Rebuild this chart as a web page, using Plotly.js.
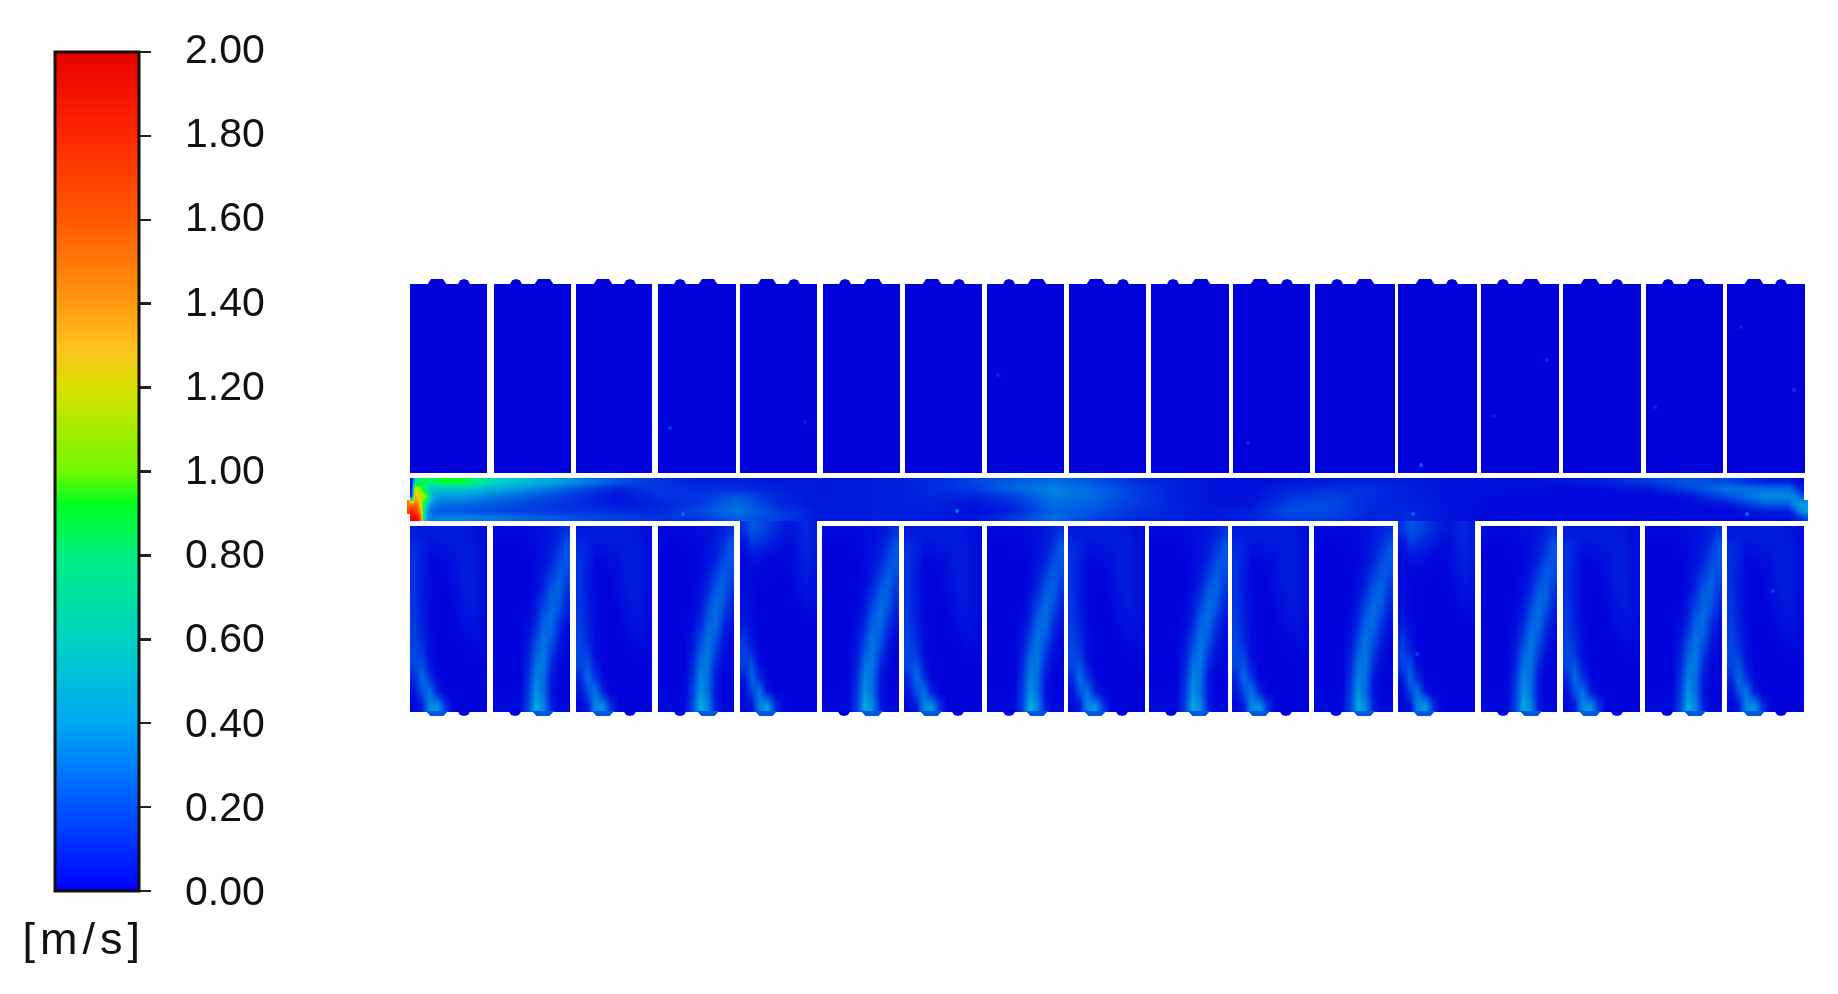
<!DOCTYPE html>
<html>
<head>
<meta charset="utf-8">
<script src="https://cdn.plot.ly/plotly-3.0.1.min.js"></script>
<style>
  html, body { margin: 0; background: #fff; }
  #chart { width: 1838px; height: 994px; filter: blur(0.6px); }
  .annotation[data-index="0"] .annotation-text { letter-spacing: 5px; }
</style>
</head>
<body>
<div id="chart"></div>
<script>
// Velocity field. Plan positions are in picture pixels.
const barStops = [[0, '#0000ff'], [0.1, '#0055ff'], [0.2, '#00a8f4'], [0.3, '#00d2c4'], [0.4, '#00f080'], [0.46, '#00ff20'],
  [0.5, '#70f800'], [0.6, '#d8e000'], [0.65, '#ffc020'], [0.7, '#ff9a10'], [0.8, '#ff5a00'], [0.9, '#ff2800'], [1, '#e80000']];
const fieldStops = [[0, '#0000da'], [0.1, '#0055e4'], [0.2, '#00a4e0'], [0.3, '#00d2c4'], [0.4, '#00f080'], [0.46, '#00ff20'],
  [0.5, '#70f800'], [0.6, '#d8e000'], [0.65, '#ffc020'], [0.7, '#ff9a10'], [0.8, '#ff5a00'], [0.9, '#ff2800'], [1, '#e80000']];
const speedTicks = [0, 0.2, 0.4, 0.6, 0.8, 1, 1.2, 1.4, 1.6, 1.8, 2];

const upperLeft = [410, 494, 576, 658, 740, 823, 905, 987, 1069, 1151, 1233, 1315, 1398, 1481, 1563, 1646, 1727];
const upperRight = [487, 571, 652, 736, 817, 900, 982, 1064, 1146, 1229, 1310, 1395, 1477, 1559, 1641, 1723, 1805];
const lowerLeft = [410, 493, 576, 658, 740, 822, 904, 987, 1068, 1149, 1232, 1314, 1398, 1481, 1563, 1645, 1727];
const lowerRight = [487, 570, 652, 734, 817, 899, 982, 1064, 1145, 1228, 1309, 1393, 1475, 1557, 1640, 1722, 1804];
const lowerKinds = ['wall', 'far', 'wall', 'far', 'open', 'far', 'wall', 'far', 'wall', 'far', 'wall', 'far', 'open', 'far', 'wall', 'far', 'wall'];

const upperRoom = [[0.01, 0.01], [0.01, 0.01]];

const wallRoom = [
  [0.06, 0.06, 0.06, 0.06, 0.06, 0.06, 0.06, 0.05, 0.04, 0.03],
  [0.10, 0.08, 0.04, 0.04, 0.05, 0.05, 0.06, 0.06, 0.05, 0.03],
  [0.11, 0.07, 0.02, 0.02, 0.03, 0.04, 0.06, 0.06, 0.05, 0.03],
  [0.11, 0.06, 0.02, 0.01, 0.02, 0.03, 0.06, 0.06, 0.05, 0.03],
  [0.11, 0.06, 0.02, 0.01, 0.01, 0.03, 0.05, 0.06, 0.05, 0.03],
  [0.12, 0.06, 0.02, 0.01, 0.01, 0.02, 0.04, 0.06, 0.05, 0.03],
  [0.13, 0.07, 0.02, 0.01, 0.01, 0.01, 0.03, 0.05, 0.05, 0.03],
  [0.14, 0.08, 0.02, 0.01, 0.01, 0.01, 0.02, 0.04, 0.04, 0.02],
  [0.15, 0.10, 0.03, 0.01, 0.01, 0.01, 0.01, 0.02, 0.03, 0.02],
  [0.17, 0.13, 0.03, 0.01, 0.01, 0.01, 0.01, 0.01, 0.02, 0.01],
  [0.16, 0.20, 0.06, 0.01, 0.01, 0.01, 0.01, 0.01, 0.01, 0.01],
  [0.09, 0.26, 0.13, 0.02, 0.01, 0.01, 0.01, 0.01, 0.01, 0.01],
  [0.04, 0.18, 0.28, 0.08, 0.01, 0.01, 0.01, 0.01, 0.01, 0.01],
  [0.02, 0.06, 0.32, 0.36, 0.12, 0.01, 0.01, 0.01, 0.01, 0.01],
];
const farRoom = [
  [0.02, 0.02, 0.02, 0.02, 0.02, 0.03, 0.03, 0.05, 0.08, 0.12],
  [0.01, 0.01, 0.01, 0.01, 0.02, 0.02, 0.04, 0.06, 0.12, 0.20],
  [0.01, 0.01, 0.01, 0.01, 0.01, 0.02, 0.04, 0.08, 0.17, 0.20],
  [0.01, 0.01, 0.01, 0.01, 0.01, 0.02, 0.06, 0.13, 0.21, 0.18],
  [0.01, 0.01, 0.01, 0.01, 0.01, 0.03, 0.08, 0.19, 0.23, 0.14],
  [0.01, 0.01, 0.01, 0.01, 0.01, 0.05, 0.13, 0.24, 0.22, 0.10],
  [0.01, 0.01, 0.01, 0.01, 0.02, 0.07, 0.19, 0.26, 0.17, 0.07],
  [0.01, 0.01, 0.01, 0.01, 0.03, 0.10, 0.24, 0.25, 0.11, 0.04],
  [0.01, 0.01, 0.01, 0.01, 0.05, 0.16, 0.28, 0.20, 0.07, 0.02],
  [0.01, 0.01, 0.01, 0.01, 0.07, 0.22, 0.29, 0.14, 0.04, 0.01],
  [0.01, 0.01, 0.01, 0.01, 0.09, 0.28, 0.28, 0.09, 0.02, 0.01],
  [0.01, 0.01, 0.01, 0.01, 0.12, 0.32, 0.26, 0.06, 0.01, 0.01],
  [0.01, 0.01, 0.01, 0.02, 0.14, 0.36, 0.26, 0.05, 0.01, 0.01],
  [0.02, 0.02, 0.02, 0.03, 0.16, 0.42, 0.32, 0.07, 0.02, 0.02],
];
const openRoom = [
  [0.12, 0.20, 0.18, 0.14, 0.10, 0.06, 0.05, 0.07, 0.10, 0.06],
  [0.05, 0.14, 0.12, 0.09, 0.06, 0.03, 0.03, 0.06, 0.09, 0.06],
  [0.02, 0.05, 0.05, 0.03, 0.02, 0.02, 0.02, 0.05, 0.08, 0.06],
  [0.02, 0.02, 0.02, 0.02, 0.01, 0.01, 0.02, 0.04, 0.07, 0.05],
  [0.02, 0.02, 0.01, 0.01, 0.01, 0.01, 0.01, 0.03, 0.05, 0.04],
  [0.03, 0.02, 0.01, 0.01, 0.01, 0.01, 0.01, 0.02, 0.04, 0.03],
  [0.04, 0.02, 0.01, 0.01, 0.01, 0.01, 0.01, 0.01, 0.02, 0.02],
  [0.06, 0.03, 0.01, 0.01, 0.01, 0.01, 0.01, 0.01, 0.01, 0.01],
  [0.11, 0.05, 0.01, 0.01, 0.01, 0.01, 0.01, 0.01, 0.01, 0.01],
  [0.15, 0.08, 0.01, 0.01, 0.01, 0.01, 0.01, 0.01, 0.01, 0.01],
  [0.14, 0.18, 0.03, 0.01, 0.01, 0.01, 0.01, 0.01, 0.01, 0.01],
  [0.06, 0.24, 0.10, 0.01, 0.01, 0.01, 0.01, 0.01, 0.01, 0.01],
  [0.02, 0.15, 0.28, 0.05, 0.01, 0.01, 0.01, 0.01, 0.01, 0.01],
  [0.02, 0.04, 0.30, 0.38, 0.10, 0.02, 0.01, 0.01, 0.01, 0.01],
];
const roomByKind = { wall: wallRoom, far: farRoom, open: openRoom };

const inlet = [
  [null, 0.05, 0.60, 0.75, 0.85, 0.90, 0.85, 0.85, 0.85, 0.85, 0.90],
  [null, 0.05, 1.25, 1.10, 1.00, 0.85, 0.70, 0.55, 0.55, 0.55, 0.55],
  [null, 0.10, 1.45, 1.20, 1.15, 1.10, 1.00, 0.65, 0.45, 0.42, 0.40],
  [1.50, 1.50, 1.50, 1.50, 1.15, 0.85, 0.55, 0.40, 0.33, 0.30, 0.28],
  [1.70, 1.85, 1.75, 1.60, 1.35, 0.75, 0.42, 0.30, 0.25, 0.22, 0.20],
  [null, 1.95, 2.00, 1.90, 1.60, 0.70, 0.38, 0.30, 0.30, 0.30, 0.32],
];
const corridor = [
  [0.92, 0.60, 0.45, 0.33, 0.20, 0.12, 0.08, 0.08, 0.05, 0.05, 0.06, 0.07, 0.10, 0.16, 0.22, 0.26, 0.20, 0.12, 0.07, 0.04, 0.03, 0.05, 0.07, 0.08, 0.06, 0.04, 0.03, 0.03, 0.05, 0.08, 0.14, 0.20, 0.16, 0.08],
  [0.55, 0.42, 0.32, 0.18, 0.08, 0.13, 0.10, 0.10, 0.07, 0.05, 0.06, 0.07, 0.10, 0.14, 0.24, 0.32, 0.24, 0.14, 0.08, 0.04, 0.03, 0.08, 0.11, 0.11, 0.07, 0.04, 0.03, 0.03, 0.02, 0.03, 0.05, 0.15, 0.28, 0.26],
  [0.38, 0.28, 0.20, 0.12, 0.04, 0.12, 0.12, 0.20, 0.09, 0.05, 0.06, 0.07, 0.09, 0.08, 0.16, 0.30, 0.25, 0.15, 0.08, 0.04, 0.04, 0.12, 0.15, 0.10, 0.07, 0.04, 0.03, 0.02, 0.02, 0.02, 0.02, 0.04, 0.18, 0.34],
  [0.26, 0.20, 0.14, 0.10, 0.05, 0.08, 0.12, 0.26, 0.10, 0.05, 0.06, 0.07, 0.08, 0.04, 0.10, 0.26, 0.22, 0.14, 0.08, 0.04, 0.05, 0.16, 0.17, 0.09, 0.08, 0.04, 0.02, 0.02, 0.02, 0.02, 0.02, 0.02, 0.05, 0.22],
  [0.20, 0.17, 0.14, 0.12, 0.10, 0.09, 0.18, 0.28, 0.14, 0.06, 0.06, 0.07, 0.07, 0.03, 0.08, 0.24, 0.20, 0.12, 0.08, 0.05, 0.07, 0.18, 0.17, 0.09, 0.09, 0.04, 0.02, 0.02, 0.02, 0.02, 0.02, 0.02, 0.02, 0.07],
  [0.32, 0.28, 0.22, 0.18, 0.15, 0.12, 0.12, 0.22, 0.15, 0.06, 0.06, 0.07, 0.06, 0.04, 0.14, 0.26, 0.15, 0.10, 0.07, 0.05, 0.08, 0.15, 0.14, 0.08, 0.09, 0.04, 0.02, 0.02, 0.02, 0.02, 0.02, 0.02, 0.02, 0.03],
];
const outlet = [
  [0.08, 0.05, 0.03, 0.03, null],
  [0.26, 0.20, 0.12, 0.07, null],
  [0.34, 0.33, 0.28, 0.20, null],
  [0.22, 0.32, 0.36, 0.38, 0.36],
  [0.07, 0.14, 0.26, 0.36, 0.38],
  [0.03, 0.05, 0.08, 0.12, 0.18],
];

const spotX = [683, 957, 1413, 1747, 670, 1773, 1417, 1421, 1741, 1794, 1494, 1248, 998, 1547, 1655, 805];
const spotY = [514, 511, 514, 514, 428, 591, 654, 465, 327, 390, 416, 443, 375, 360, 407, 422];
const spotSpeed = [0.28, 0.28, 0.24, 0.24, 0.16, 0.16, 0.14, 0.22, 0.10, 0.12, 0.10, 0.10, 0.10, 0.10, 0.10, 0.10];

// bump offsets from the room's left edge, the pattern swaps from room to room
const narrowOffset = { odd: 54, even: 22 };
const wideOffset = { odd: 27, even: 50 };
const openWideOffset = 26;

function field(z, left, right, top, bottom) {
  const rows = z.length;
  const cols = z[0].length;
  const dx = (right - left) / cols;
  const dy = (bottom - top) / rows;
  return {
    type: 'heatmap',
    z,
    x0: left + dx / 2,
    dx,
    y0: top + dy / 2,
    dy,
    zsmooth: 'best',
    coloraxis: 'coloraxis',
    hoverinfo: 'skip',
  };
}

function bumps(shapeX, shapeY, items, width, base, height, color) {
  const x = [];
  const y = [];
  items.forEach((center) => {
    shapeX.forEach((value, index) => {
      x.push(center + value * width / 2);
      y.push(base + shapeY[index] * height);
    });
    x.push(null);
    y.push(null);
  });
  return {
    type: 'scatter',
    mode: 'lines',
    x,
    y,
    fill: 'toself',
    fillcolor: color,
    line: { width: 0 },
    hoverinfo: 'skip',
  };
}

const roundX = [-1, -0.6, 0, 0.6, 1];
const roundY = [0, 0.8, 1, 0.8, 0];
const flatX = [-1, -0.6, 0.6, 1];
const flatY = [0, 1, 1, 0];

const traces = [];
upperLeft.forEach((left, i) => traces.push(field(upperRoom, left, upperRight[i], 284, 473)));
// the open rooms have no wall against the corridor
lowerLeft.forEach((left, i) => {
  const top = lowerKinds[i] === 'open' ? 521 : 526;
  traces.push(field(roomByKind[lowerKinds[i]], left, lowerRight[i], top, 712));
});
traces.push(field(corridor, 440, 1786, 478, 521));
traces.push(field(inlet, 407, 440, 478, 521));
traces.push(field(outlet, 1786, 1808, 478, 521));

const topWide = upperLeft.map((left, i) => left + (i % 2 === 0 ? wideOffset.odd : wideOffset.even));
const topNarrow = upperLeft.map((left, i) => left + (i % 2 === 0 ? narrowOffset.odd : narrowOffset.even));
const closedLower = lowerLeft.map((left, i) => ({ left, i })).filter((room) => lowerKinds[room.i] !== 'open');
const bottomWide = lowerLeft.map((left, i) => {
  if (lowerKinds[i] === 'open') return left + openWideOffset;
  return left + (i % 2 === 0 ? wideOffset.odd : wideOffset.even);
});
const bottomNarrow = closedLower.map((room) => room.left + (room.i % 2 === 0 ? narrowOffset.odd : narrowOffset.even));

traces.push(bumps(flatX, flatY, topWide, 20, 285, -6, '#0000da'));
traces.push(bumps(roundX, roundY, topNarrow, 13, 285, -6, '#0000da'));
traces.push(bumps(flatX, flatY, bottomWide, 22, 711, 5, '#0058e0'));
traces.push(bumps(roundX, roundY, bottomNarrow, 13, 711, 5, '#0000da'));

traces.push({
  type: 'scatter',
  mode: 'markers',
  x: spotX,
  y: spotY,
  marker: { size: 4, color: spotSpeed, coloraxis: 'coloraxis' },
  hoverinfo: 'skip',
});

// only here to carry the colour bar, sits outside the axis range
traces.push({
  type: 'heatmap',
  x: [-200, -100],
  y: [-200, -100],
  z: [[0, 2], [0, 2]],
  coloraxis: 'coloraxis2',
  hoverinfo: 'skip',
});

// colorbar has no label standoff, the reference sets its numbers well off the ticks
const tickLabels = speedTicks.map((speed) => ({
  text: speed.toFixed(2),
  xref: 'paper',
  yref: 'paper',
  x: 183 / 1838,
  y: (994 - (891 - speed * 421)) / 994,
  xanchor: 'left',
  yanchor: 'middle',
  showarrow: false,
  font: { family: 'Liberation Sans', size: 41, color: '#111111' },
}));

const layout = {
  width: 1838,
  height: 994,
  margin: { l: 0, r: 0, t: 0, b: 0, pad: 0, autoexpand: false },
  paper_bgcolor: '#ffffff',
  plot_bgcolor: '#ffffff',
  showlegend: false,
  xaxis: { range: [0, 1838], visible: false, fixedrange: true },
  yaxis: { range: [994, 0], visible: false, fixedrange: true },
  coloraxis: { colorscale: fieldStops, cmin: 0, cmax: 2, showscale: false },
  coloraxis2: {
    colorscale: barStops,
    cmin: 0,
    cmax: 2,
    colorbar: {
      x: 55 / 1838,
      xanchor: 'left',
      xpad: 0,
      y: (994 - 891) / 994,
      yanchor: 'bottom',
      ypad: 0,
      len: 839,
      lenmode: 'pixels',
      thickness: 84,
      thicknessmode: 'pixels',
      outlinecolor: '#111111',
      outlinewidth: 3,
      ticks: 'outside',
      ticklen: 11,
      tickwidth: 2.5,
      tickcolor: '#222222',
      tickvals: speedTicks,
      showticklabels: false,
    },
  },
  annotations: [{
    text: '[m/s]',
    xref: 'paper',
    yref: 'paper',
    x: 84 / 1838,
    y: (994 - 938) / 994,
    xanchor: 'center',
    yanchor: 'middle',
    showarrow: false,
    font: { family: 'Liberation Sans', size: 45, color: '#111111' },
  }].concat(tickLabels),
};

Plotly.newPlot('chart', traces, layout, { staticPlot: true, displayModeBar: false });
</script>
</body>
</html>
